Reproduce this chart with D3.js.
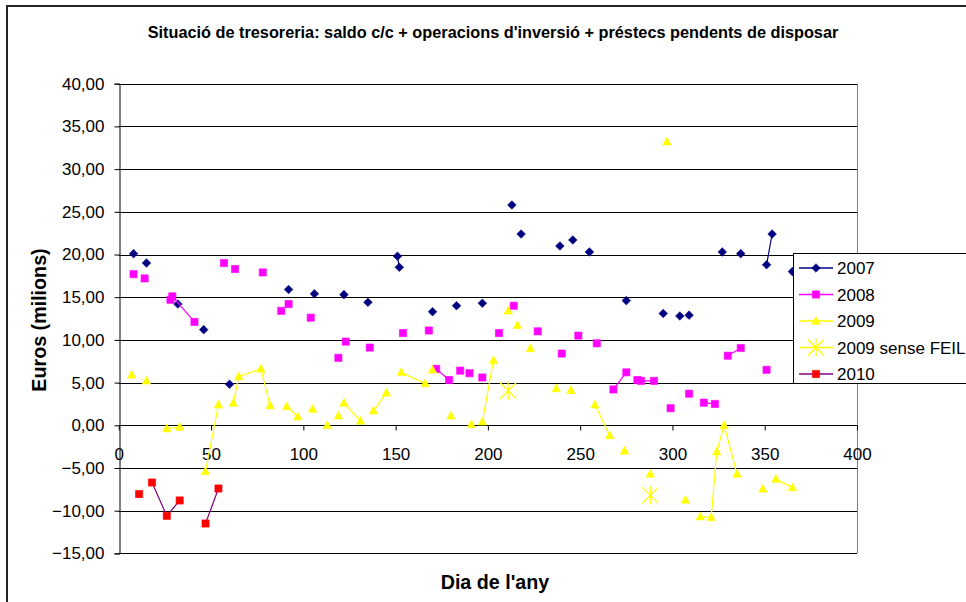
<!DOCTYPE html>
<html>
<head>
<meta charset="utf-8">
<script src="https://cdn.jsdelivr.net/npm/d3@7"></script>
<style>
  body { margin: 0; background: #fff; }
  svg { display: block; font-family: "Liberation Sans", Arial, sans-serif; }
</style>
</head>
<body>
<div id="chartRegion"></div>
<script>
/* Dies de l'any i saldo (milions d'euros). Un null talla la linia entre punts */
var dies2007 = [8, null, 15, null, 32, null, 46, null, 60, null, 92, null, 106, null, 122, null, 135, null, 151, 152, null, 170, null, 183, null, 197, null, 213, null, 218, null, 239, null, 246, null, 255, null, 275, null, 295, null, 304, null, 309, null, 327, null, 337, null, 351, 354, null, 365];
var eur2007  = [20.1, null, 19.0, null, 14.2, null, 11.2, null, 4.8, null, 15.9, null, 15.4, null, 15.3, null, 14.4, null, 19.8, 18.5, null, 13.3, null, 14.0, null, 14.3, null, 25.8, null, 22.4, null, 21.0, null, 21.7, null, 20.3, null, 14.6, null, 13.1, null, 12.8, null, 12.9, null, 20.3, null, 20.1, null, 18.8, 22.4, null, 18.0];

var dies2008 = [8, null, 14, null, 28, null, 29, 41, null, 57, null, 63, null, 78, null, 88, null, 92, null, 104, null, 119, null, 123, null, 136, null, 154, null, 168, null, 172, 179, null, 185, null, 190, null, 197, null, 206, null, 214, null, 227, null, 240, null, 249, null, 259, null, 268, 275, null, 281, 283, 290, null, 299, null, 309, null, 317, 323, null, 330, 337, null, 351];
var eur2008  = [17.7, null, 17.2, null, 14.7, null, 15.1, 12.1, null, 19.0, null, 18.3, null, 17.9, null, 13.4, null, 14.2, null, 12.6, null, 7.9, null, 9.8, null, 9.1, null, 10.8, null, 11.1, null, 6.6, 5.3, null, 6.4, null, 6.1, null, 5.6, null, 10.8, null, 14.0, null, 11.0, null, 8.4, null, 10.5, null, 9.6, null, 4.2, 6.2, null, 5.3, 5.2, 5.2, null, 2.0, null, 3.7, null, 2.65, 2.5, null, 8.15, 9.05, null, 6.5];

var dies2009 = [7, null, 15, null, 26, 33, null, 47, 54, null, 62, 65, 77, 82, null, 91, 97, null, 105, null, 113, null, 119, null, 122, 131, null, 138, 145, null, 153, 166, null, 170, null, 180, null, 191, null, 197, 203, null, 211, null, 216, null, 223, null, 237, null, 245, null, 258, 266, null, 274, null, 288, null, 297, null, 307, null, 315, 321, 324, 328, 335, null, 349, null, 356, 365];
var eur2009  = [5.9, null, 5.2, null, -0.4, -0.2, null, -5.4, 2.4, null, 2.6, 5.7, 6.6, 2.3, null, 2.2, 1.0, null, 1.9, null, 0.0, null, 1.1, null, 2.6, 0.5, null, 1.7, 3.8, null, 6.2, 4.9, null, 6.5, null, 1.1, null, 0.1, null, 0.4, 7.6, null, 13.4, null, 11.7, null, 9.0, null, 4.3, null, 4.1, null, 2.4, -1.2, null, -3.0, null, -5.7, null, 33.2, null, -8.75, null, -10.7, -10.8, -3.1, 0.0, -5.7, null, -7.45, null, -6.3, -7.3];

var diesFeil = [211, null, 288];
var eurFeil  = [4.05, null, -8.2];

var dies2010 = [11, null, 18, 26, 33, null, 47, 54];
var eur2010  = [-8.05, null, -6.7, -10.6, -8.8, null, -11.5, -7.4];

var noms = ["2007", "2008", "2009", "2009 sense FEIL", "2010"];
var ticksX = [0, 50, 100, 150, 200, 250, 300, 350, 400];
var ticksY = [-15, -10, -5, 0, 5, 10, 15, 20, 25, 30, 35, 40];

var titol = "Situació de tresoreria: saldo c/c + operacions d'inversió + préstecs pendents de disposar";
var titolX = "Dia de l'any";
var titolY = "Euros (milions)";

/* build the series table */
function zipSeries(dies, eur) {
	var out = [];
	for (var i = 0; i < dies.length; i++) {
		out.push({x: dies[i], y: eur[i]});
	}
	return out;
}

var series = [
	{nom: noms[0], punts: zipSeries(dies2007, eur2007), linia: "#000080", farciment: "#000080", marca: "diamond"},
	{nom: noms[1], punts: zipSeries(dies2008, eur2008), linia: "#FF00FF", farciment: "#FF00FF", marca: "square"},
	{nom: noms[2], punts: zipSeries(dies2009, eur2009), linia: "#FFFF00", farciment: "#FFFF00", marca: "triangle"},
	{nom: noms[3], punts: zipSeries(diesFeil, eurFeil), linia: "#FFFF00", farciment: "#FFFF00", marca: "star"},
	{nom: noms[4], punts: zipSeries(dies2010, eur2010), linia: "#800080", farciment: "#FF0000", marca: "square"}
];

var W = 966, H = 602;
var pLeft = 118.8, pRight = 857, pTop = 83.7, pBottom = 553.4;

var svg = d3.select("#chartRegion").append("svg").attr("width", W).attr("height", H);

/* outer chart frame (right and bottom edges are off screen) */
svg.append("rect").attr("x", 7).attr("y", 6).attr("width", 1100).attr("height", 700)
	.attr("fill", "#fff").attr("stroke", "#222").attr("stroke-width", 2);

var x = d3.scaleLinear().domain([0, 400]).range([pLeft, pRight]);
var y = d3.scaleLinear().domain([-15, 40]).range([pBottom, pTop]);

/* gridlines */
svg.append("g").selectAll("line").data(ticksY).join("line")
	.attr("x1", pLeft).attr("x2", pRight)
	.attr("y1", function(d) { return Math.round(y(d)) + 0.5; })
	.attr("y2", function(d) { return Math.round(y(d)) + 0.5; })
	.attr("stroke", "#000").attr("stroke-width", 1);

/* right edge of the plot area */
svg.append("line").attr("x1", Math.round(pRight) + 0.5).attr("x2", Math.round(pRight) + 0.5)
	.attr("y1", pTop).attr("y2", pBottom).attr("stroke", "#808080");

var loc = d3.formatLocale({decimal: ",", thousands: ".", grouping: [3], currency: ["", " €"]});

var yAxis = svg.append("g").attr("transform", "translate(" + (Math.round(pLeft) + 0.5) + ",0)")
	.call(d3.axisLeft(y).tickValues(ticksY).tickSize(5).tickPadding(10).tickFormat(loc.format(".2f")));

var xAxis = svg.append("g").attr("transform", "translate(0," + (Math.round(y(0)) + 0.5) + ")")
	.call(d3.axisBottom(x).tickValues(ticksX).tickSize(5).tickPadding(17).tickSizeOuter(0));

[yAxis, xAxis].forEach(function(ax) {
	ax.selectAll("path, line").attr("stroke", "#000");
	ax.selectAll("text").attr("fill", "#000").style("font-size", "17px").style("font-family", "Liberation Sans, Arial, sans-serif");
});
xAxis.select(".domain").attr("d", "M" + pLeft + ",0H" + pRight);

/* marker shapes */
function markerPath(tipus) {
	var p = d3.path();
	if (tipus == "diamond") {
		p.moveTo(0, -4.3); p.lineTo(4.3, 0); p.lineTo(0, 4.3); p.lineTo(-4.3, 0); p.closePath();
	} else if (tipus == "square") {
		p.rect(-3.6, -3.6, 7.2, 7.2);
	} else if (tipus == "triangle") {
		p.moveTo(0, -4.6); p.lineTo(4.2, 3.2); p.lineTo(-4.2, 3.2); p.closePath();
	} else {
		p.moveTo(0, -9); p.lineTo(0, 9);
		p.moveTo(-8, -8); p.lineTo(8, 8);
		p.moveTo(-8, 8); p.lineTo(8, -8);
	}
	return p.toString();
}

var line = d3.line()
	.defined(function(d) { return d.y != null; })
	.x(function(d) { return x(d.x); })
	.y(function(d) { return y(d.y); });

series.forEach(function(s) {
	var g = svg.append("g");
	g.append("path").attr("d", line(s.punts)).attr("fill", "none")
		.attr("stroke", s.linia).attr("stroke-width", 1.2);
	g.selectAll("path.m").data(s.punts.filter(function(d) { return d.y != null; })).join("path")
		.attr("class", "m")
		.attr("transform", function(d) { return "translate(" + x(d.x) + "," + y(d.y) + ")"; })
		.attr("d", markerPath(s.marca))
		.attr("fill", s.marca == "star" ? "none" : s.farciment)
		.attr("stroke", s.farciment).attr("stroke-width", s.marca == "star" ? 1.2 : 0.6);
});

/* legend */
var lg = svg.append("g").attr("transform", "translate(793,253)");
lg.append("rect").attr("x", 0.5).attr("y", 0.5).attr("width", 300).attr("height", 130)
	.attr("fill", "#fff").attr("stroke", "#000");
var item = lg.selectAll("g.item").data(series).join("g").attr("class", "item")
	.attr("transform", function(d, i) { return "translate(0," + (15 + i * 26.5) + ")"; });
item.append("line").attr("x1", 6).attr("x2", 40).attr("stroke", function(d) { return d.linia; }).attr("stroke-width", 1.5);
item.append("path").attr("transform", "translate(23,0)")
	.attr("d", function(d) { return markerPath(d.marca); })
	.attr("fill", function(d) { return d.marca == "star" ? "none" : d.farciment; })
	.attr("stroke", function(d) { return d.farciment; })
	.attr("stroke-width", function(d) { return d.marca == "star" ? 1.2 : 0.6; });
item.append("text").attr("x", 44).attr("y", 6).style("font-size", "17px").text(function(d) { return d.nom; });

/* titles */
svg.append("text").attr("x", 493).attr("y", 38).attr("text-anchor", "middle")
	.style("font-size", "16.3px").style("font-weight", "bold").text(titol);
svg.append("text").attr("x", 495).attr("y", 589).attr("text-anchor", "middle")
	.style("font-size", "19.7px").style("font-weight", "bold").text(titolX);
svg.append("text").attr("transform", "translate(46,320) rotate(-90)").attr("text-anchor", "middle")
	.style("font-size", "19.7px").style("font-weight", "bold").text(titolY);
</script>
</body>
</html>
